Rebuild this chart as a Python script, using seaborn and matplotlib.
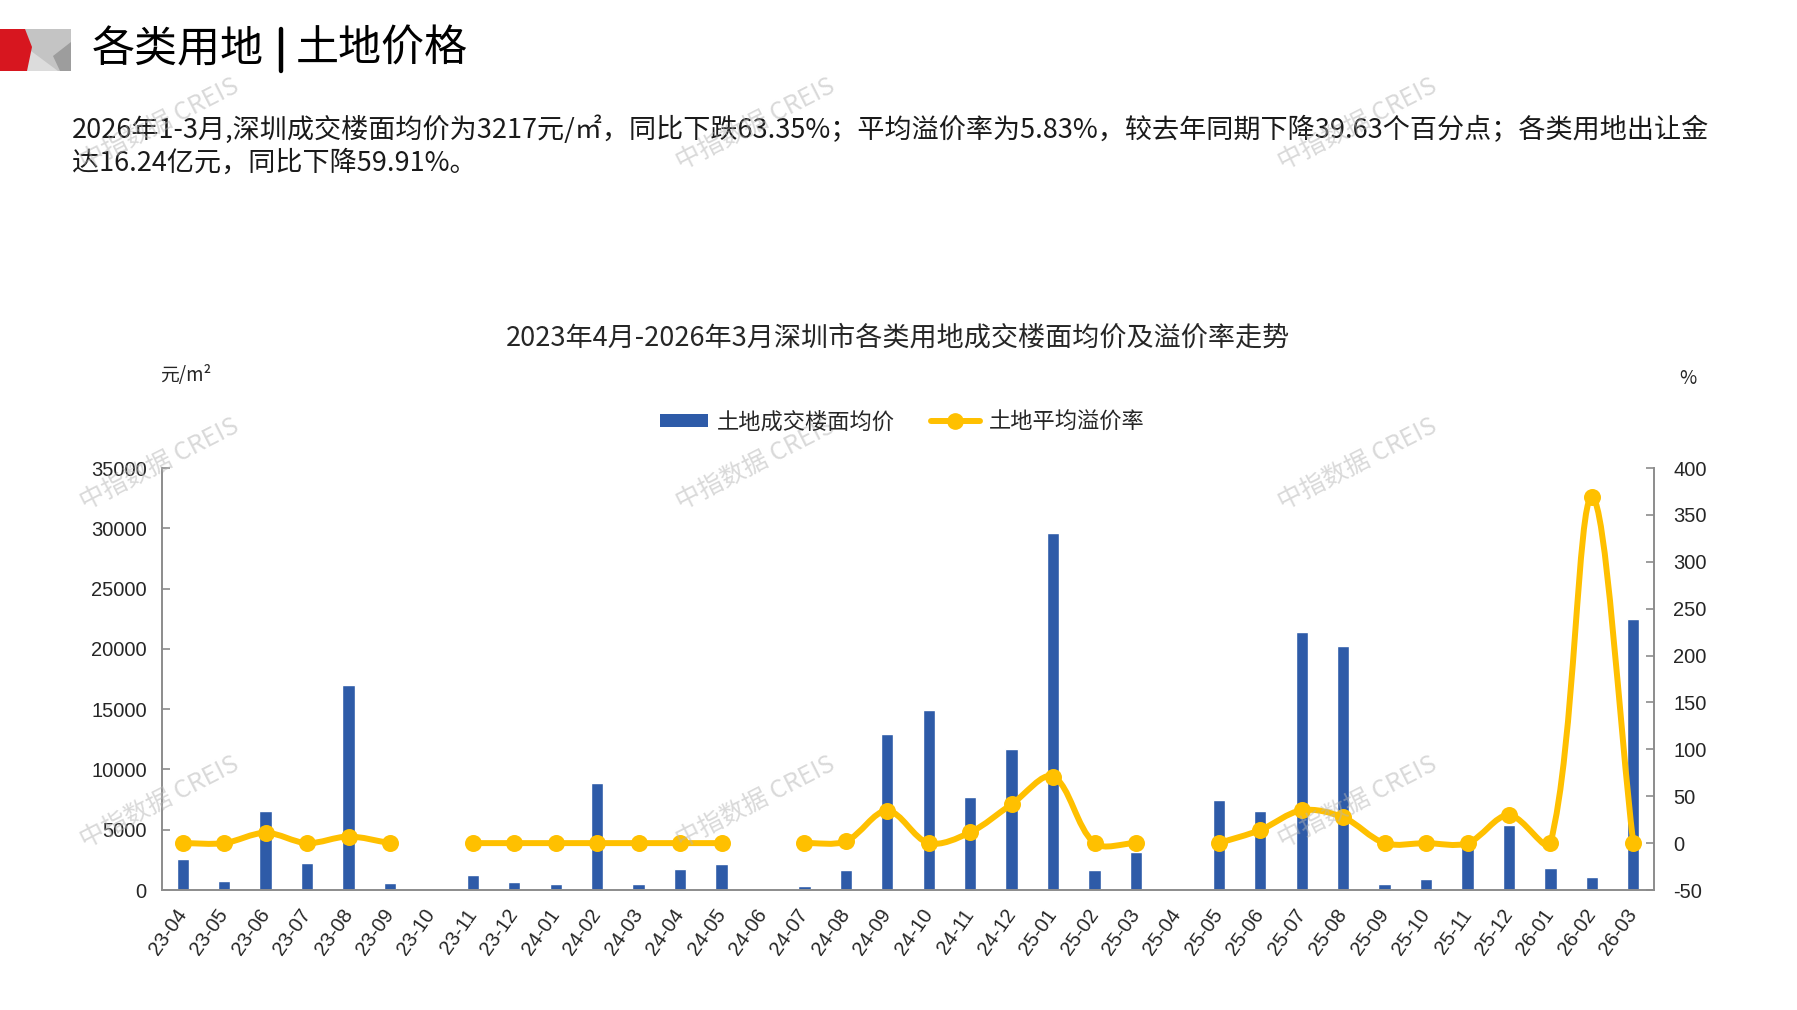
import matplotlib
matplotlib.use('Agg')
import matplotlib.pyplot as plt
from matplotlib.path import Path
from matplotlib.patches import PathPatch, Patch, Polygon
from matplotlib.lines import Line2D
import seaborn as sns
import pandas as pd
import numpy as np

months = ['23-04', '23-05', '23-06', '23-07', '23-08', '23-09', '23-10', '23-11', '23-12',
          '24-01', '24-02', '24-03', '24-04', '24-05', '24-06', '24-07', '24-08', '24-09',
          '24-10', '24-11', '24-12', '25-01', '25-02', '25-03', '25-04', '25-05', '25-06',
          '25-07', '25-08', '25-09', '25-10', '25-11', '25-12', '26-01', '26-02', '26-03']

# 土地成交楼面均价 (元/㎡)
price = [2550, 750, 6550, 2200, 17000, 600, np.nan, 1250, 650,
         500, 8850, 500, 1770, 2130, np.nan, 330, 1630, 12900,
         14900, 7750, 11700, 29650, 1650, 3180, np.nan, 7450, 6530,
         21430, 20250, 520, 900, 3900, 5370, 1800, 1050, 22450]

# 土地平均溢价率 (%)
premium = [0, 0, 11, 0, 7, 0, np.nan, 0, 0,
           0, 0, 0, 0, 0, np.nan, 0, 2, 34.5,
           0, 11.5, 41.5, 71, 0, 0, np.nan, 0, 14,
           35, 27.5, 0, 0, 0, 30, 0, 369, 0]

price_ticks = [0, 5000, 10000, 15000, 20000, 25000, 30000, 35000]
premium_ticks = [-50, 0, 50, 100, 150, 200, 250, 300, 350, 400]

header_left = '各类用地'
header_right = '土地价格'
para1 = '2026年1-3月,深圳成交楼面均价为3217元/㎡，同比下跌63.35%；平均溢价率为5.83%，较去年同期下降39.63个百分点；各类用地出让金'
para2 = '达16.24亿元，同比下降59.91%。'
chart_title = '2023年4月-2026年3月深圳市各类用地成交楼面均价及溢价率走势'
bar_label = '土地成交楼面均价'
line_label = '土地平均溢价率'
watermark = '中指数据 CREIS'

blue = '#2E5BA8'
yellow = '#FFC000'
spine_gray = '#8c8c8c'

W, H = 1797, 1010


def fx(x):
    return x / W


def fy(y):
    return 1 - y / H


def smooth_path(ax, xs, ys):
    # bezier through the points, tangents weighted by segment length on screen
    pts = ax.transData.transform(np.column_stack([xs, ys]))
    n = len(pts)
    inv = ax.transData.inverted()
    verts = [tuple(pts[0])]
    codes = [Path.MOVETO]
    for i in range(n - 1):
        p0 = pts[max(i - 1, 0)]
        p1 = pts[i]
        p2 = pts[i + 1]
        p3 = pts[min(i + 2, n - 1)]
        l01 = np.hypot(*(p1 - p0))
        l12 = np.hypot(*(p2 - p1))
        l23 = np.hypot(*(p3 - p2))
        d1 = p2 - p0
        d2 = p3 - p1
        w1 = l12 / (l01 + l12) if l01 + l12 > 0 else 0.5
        w2 = l12 / (l12 + l23) if l12 + l23 > 0 else 0.5
        c1 = p1 + d1 * w1 / 3
        c2 = p2 - d2 * w2 / 3
        verts += [tuple(c1), tuple(c2), tuple(p2)]
        codes += [Path.CURVE4] * 3
    verts = inv.transform(np.array(verts))
    return Path(verts, codes)


def main():
    sns.set_style('white')
    plt.rcParams['font.family'] = ['Noto Sans CJK SC', 'DejaVu Sans']
    num_font = 'Liberation Sans'

    df = pd.DataFrame({'month': months, 'price': price, 'premium': premium})
    df['pos'] = np.arange(len(df))

    fig = plt.figure(figsize=(W / 100, H / 100), dpi=100)
    left, right, bottom, top = 162, 1654, 890, 468
    ax = fig.add_axes([fx(left), fy(bottom), (right - left) / W, (bottom - top) / H])

    sns.barplot(data=df, x='month', y='price', order=months, color=blue, saturation=1,
                width=0.3, errorbar=None, ax=ax, zorder=2)
    ax.set_xlim(-0.5, len(months) - 0.5)
    ax.set_ylim(0, 35000)
    ax.set_yticks(price_ticks)
    ax.set_yticklabels([str(t) for t in price_ticks], fontname=num_font, fontsize=14.5)
    ax.set_xticks(df['pos'])
    ax.set_xticklabels(months, fontname=num_font, fontsize=14.5, rotation=55,
                       ha='right', va='center', rotation_mode='anchor')
    ax.set_xticks(np.arange(len(months) + 1) - 0.5, minor=True)
    ax.tick_params(axis='x', which='major', length=0, pad=15)
    ax.tick_params(axis='x', which='minor', direction='in', length=5, color=spine_gray, width=1.2)
    ax.tick_params(axis='y', direction='in', length=6, color=spine_gray, width=1.2, pad=11)
    ax.set_xlabel('')
    ax.set_ylabel('')
    for s in ['top', 'right']:
        ax.spines[s].set_visible(False)
    for s in ['left', 'bottom']:
        ax.spines[s].set_color(spine_gray)
        ax.spines[s].set_linewidth(1.4)

    ax2 = ax.twinx()
    ax2.set_xlim(-0.5, len(months) - 0.5)
    ax2.set_ylim(-50, 400)
    ax2.set_yticks(premium_ticks)
    ax2.set_yticklabels([str(t) for t in premium_ticks], fontname=num_font, fontsize=14.5)
    ax2.tick_params(axis='y', direction='in', length=6, color=spine_gray, width=1.2, pad=14)
    for s in ['top', 'left', 'bottom']:
        ax2.spines[s].set_visible(False)
    ax2.spines['right'].set_color(spine_gray)
    ax2.spines['right'].set_linewidth(1.4)

    # smoothed line segments, broken where there is no data
    valid = df['premium'].notna().values
    start = None
    for i in range(len(df) + 1):
        ok = i < len(df) and valid[i]
        if ok and start is None:
            start = i
        elif not ok and start is not None:
            seg = df.iloc[start:i]
            path = smooth_path(ax2, seg['pos'].values.astype(float), seg['premium'].values)
            ax2.add_patch(PathPatch(path, facecolor='none', edgecolor=yellow, lw=4.3,
                                    capstyle='round', joinstyle='round', zorder=3))
            start = None
    sns.scatterplot(data=df, x='pos', y='premium', color=yellow, s=150, linewidth=0,
                    zorder=4, ax=ax2, legend=False)
    ax2.set_xlim(-0.5, len(months) - 0.5)
    ax2.set_xlabel('')
    ax2.set_ylabel('')

    handles = [Patch(facecolor=blue, edgecolor='none'),
               Line2D([], [], color=yellow, lw=4.3, marker='o', markersize=11)]
    fig.legend(handles, [bar_label, line_label], loc='center', bbox_to_anchor=(fx(902), fy(422)),
               ncol=2, frameon=False, fontsize=16, handlelength=2.2, handleheight=0.55,
               handletextpad=0.4, columnspacing=1.6)

    fig.text(fx(898), fy(338), chart_title, ha='center', va='center', fontsize=19.5, color='#262626')
    fig.text(fx(160), fy(376), '元/m²', ha='left', va='center', fontsize=13.5)
    fig.text(fx(1688), fy(378), '%', ha='center', va='center', fontsize=13.5)

    # header block
    fig.text(fx(92), fy(50), header_left, ha='left', va='center', fontsize=31, color='black')
    fig.add_artist(Line2D([fx(281), fx(281)], [fy(29), fy(71)], color='black', lw=3.2,
                          transform=fig.transFigure))
    fig.text(fx(296), fy(50), header_right, ha='left', va='center', fontsize=31, color='black')
    fig.text(fx(72), fy(130), para1, ha='left', va='center', fontsize=19.5, color='#1a1a1a')
    fig.text(fx(72), fy(163), para2, ha='left', va='center', fontsize=19.5, color='#1a1a1a')

    def fpoly(pts, color):
        fig.patches.append(Polygon([(fx(x), fy(y)) for x, y in pts], closed=True,
                                   facecolor=color, edgecolor='none', transform=fig.transFigure))

    fpoly([(24, 29), (71, 29), (71, 71), (24, 71)], '#c4c4c4')
    fpoly([(27, 48), (58, 71), (27, 71)], '#dcdcdc')
    fpoly([(53, 56), (71, 42), (71, 71), (60, 71)], '#9d9d9d')
    fpoly([(0, 29), (25, 29), (32, 47), (27, 71), (0, 71)], '#d7161f')

    # watermarks
    for wx in [160, 756, 1358]:
        for wy in [124, 464, 802]:
            fig.text(fx(wx), fy(wy), watermark, ha='center', va='center', fontsize=18,
                     rotation=27, color='#b4b4b4', alpha=0.5, family=['Noto Sans CJK SC', 'DejaVu Sans'])

    fig.savefig('out.png', dpi=100)
    plt.close(fig)


if __name__ == '__main__':
    main()
